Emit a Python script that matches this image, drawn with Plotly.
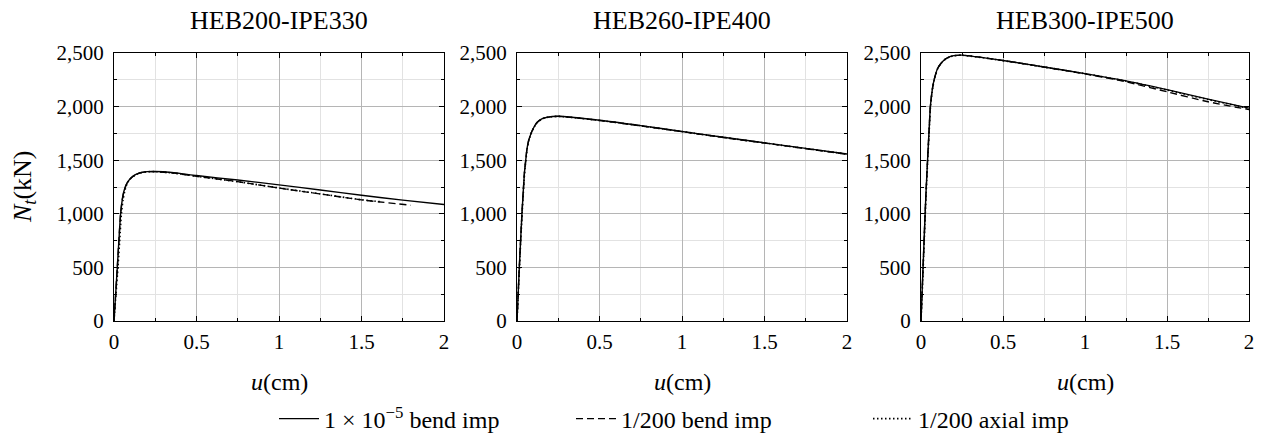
import plotly.graph_objects as go

# ---------------- data ----------------
titles = ["HEB200-IPE330", "HEB260-IPE400", "HEB300-IPE500"]
series_names = ["1 × 10<sup>−5</sup> bend imp", "1/200 bend imp", "1/200 axial imp"]

# Panel 1: HEB200-IPE330
p1_u_solid = [0, 0.01, 0.02, 0.03, 0.04, 0.05, 0.06, 0.08, 0.10, 0.13, 0.16, 0.20, 0.25, 0.35, 0.5, 0.75, 1.0, 1.25, 1.5, 1.75, 2.0]
p1_n_solid = [0, 250, 500, 760, 1000, 1130, 1210, 1290, 1330, 1365, 1383, 1393, 1394, 1385, 1357, 1315, 1270, 1222, 1173, 1128, 1087]
p1_u_dash = [0, 0.01, 0.02, 0.03, 0.04, 0.05, 0.06, 0.08, 0.10, 0.13, 0.16, 0.20, 0.25, 0.35, 0.5, 0.75, 1.0, 1.25, 1.5, 1.8]
p1_n_dash = [0, 250, 500, 760, 1000, 1130, 1210, 1290, 1330, 1365, 1383, 1393, 1393, 1382, 1350, 1300, 1240, 1185, 1130, 1080]
p1_u_dot = [0, 0.012, 0.024, 0.035, 0.045, 0.055, 0.065, 0.08, 0.10, 0.13, 0.16, 0.20, 0.25, 0.35, 0.5, 0.75, 1.0, 1.25, 1.5, 1.62]
p1_n_dot = [0, 250, 500, 760, 1000, 1130, 1210, 1285, 1328, 1363, 1382, 1392, 1393, 1382, 1350, 1299, 1241, 1186, 1131, 1112]

# Panel 2: HEB260-IPE400
p2_u_solid = [0, 0.014, 0.03, 0.045, 0.053, 0.06, 0.07, 0.085, 0.10, 0.12, 0.15, 0.18, 0.25, 0.5, 0.75, 1.0, 1.25, 1.5, 1.75, 2.0]
p2_n_solid = [0, 500, 1000, 1380, 1500, 1600, 1680, 1750, 1800, 1850, 1885, 1900, 1910, 1872, 1822, 1768, 1714, 1662, 1610, 1558]
p2_u_dash = [0, 0.014, 0.03, 0.045, 0.053, 0.06, 0.07, 0.085, 0.10, 0.12, 0.15, 0.18, 0.25, 0.5, 0.75, 1.0, 1.25, 1.5, 1.75, 2.0]
p2_n_dash = [0, 500, 1000, 1380, 1500, 1600, 1680, 1750, 1800, 1850, 1885, 1900, 1909, 1871, 1820, 1766, 1712, 1660, 1607, 1555]
p2_u_dot = [0, 0.015, 0.031, 0.046, 0.054, 0.061, 0.071, 0.086, 0.10, 0.12, 0.15, 0.18, 0.25, 0.5, 0.75, 1.0, 1.25, 1.5, 1.75, 2.0]
p2_n_dot = [0, 500, 1000, 1380, 1500, 1600, 1680, 1750, 1798, 1848, 1884, 1899, 1909, 1871, 1821, 1767, 1713, 1661, 1609, 1557]

# Panel 3: HEB300-IPE500
p3_u_solid = [0, 0.01, 0.02, 0.03, 0.04, 0.05, 0.057, 0.07, 0.08, 0.10, 0.12, 0.15, 0.17, 0.20, 0.25, 0.5, 0.75, 1.0, 1.25, 1.5, 1.75, 2.0]
p3_n_solid = [0, 400, 800, 1180, 1500, 1800, 2000, 2170, 2250, 2350, 2400, 2445, 2462, 2475, 2480, 2430, 2370, 2308, 2240, 2158, 2070, 1986]
p3_u_dash = [0, 0.01, 0.02, 0.03, 0.04, 0.05, 0.057, 0.07, 0.08, 0.10, 0.12, 0.15, 0.17, 0.20, 0.25, 0.5, 0.75, 1.0, 1.25, 1.5, 1.75, 2.0]
p3_n_dash = [0, 400, 800, 1180, 1500, 1800, 2000, 2170, 2250, 2350, 2400, 2445, 2462, 2475, 2480, 2430, 2369, 2305, 2232, 2138, 2045, 1972]
p3_u_dot = [0, 0.011, 0.021, 0.031, 0.041, 0.051, 0.058, 0.071, 0.081, 0.10, 0.12, 0.15, 0.17, 0.20, 0.25, 0.5, 0.75, 1.0, 1.25, 1.5, 1.75, 2.0]
p3_n_dot = [0, 400, 800, 1180, 1500, 1800, 2000, 2170, 2250, 2348, 2399, 2444, 2461, 2474, 2479, 2429, 2369, 2307, 2238, 2155, 2066, 1983]

x_ticks = [0, 0.5, 1, 1.5, 2]
y_ticks = [0, 500, 1000, 1500, 2000, 2500]

panels = [
    [(p1_u_solid, p1_n_solid), (p1_u_dash, p1_n_dash), (p1_u_dot, p1_n_dot)],
    [(p2_u_solid, p2_n_solid), (p2_u_dash, p2_n_dash), (p2_u_dot, p2_n_dot)],
    [(p3_u_solid, p3_n_solid), (p3_u_dash, p3_n_dash), (p3_u_dot, p3_n_dot)],
]

# ---------------- styling ----------------
W, H = 1268, 439
FONT = "Liberation Serif"
dashes = ["solid", "7px,4px", "1.5px,2.5px"]
widths = [1.4, 1.4, 1.6]

x_dom = [(114 / W, 444 / W), (517 / W, 847 / W), (921 / W, 1249 / W)]
y_dom = ((H - 321) / H, (H - 53) / H)

fig = go.Figure()

for i, panel in enumerate(panels):
    xa = "x" if i == 0 else f"x{i+1}"
    ya = "y" if i == 0 else f"y{i+1}"
    for j, (u, n) in enumerate(panel):
        fig.add_trace(go.Scatter(
            x=u, y=n, mode="lines", xaxis=xa, yaxis=ya,
            line=dict(color="black", width=widths[j], dash=dashes[j], shape="spline", smoothing=0.6),
            name=series_names[j], legendgroup=f"s{j}", showlegend=(i == 0),
        ))

axis_common = dict(
    showline=True, linecolor="black", linewidth=1.2, mirror="allticks",
    ticks="inside", ticklen=5, tickcolor="black", tickwidth=1,
    showgrid=True, gridcolor="#b5b5b5", gridwidth=1,
    zeroline=False, automargin=False,
    tickfont=dict(family=FONT, size=21, color="black"),
)

layout = dict(
    template="none",
    width=W, height=H,
    margin=dict(l=0, r=0, t=0, b=0, autoexpand=False),
    paper_bgcolor="white", plot_bgcolor="white",
    font=dict(family=FONT, color="black"),
    showlegend=True,
    legend=dict(
        orientation="h", x=274 / W, xanchor="left", y=(H - 419) / H, yanchor="middle",
        font=dict(family=FONT, size=24, color="black"),
        bgcolor="rgba(0,0,0,0)", itemwidth=40, tracegroupgap=0,
        entrywidth=242, entrywidthmode="pixels",
    ),
)

for i in range(3):
    xk = "xaxis" if i == 0 else f"xaxis{i+1}"
    yk = "yaxis" if i == 0 else f"yaxis{i+1}"
    ya = "y" if i == 0 else f"y{i+1}"
    xa = "x" if i == 0 else f"x{i+1}"
    layout[xk] = dict(
        axis_common, domain=list(x_dom[i]), anchor=ya, range=[0, 2],
        tickvals=x_ticks, ticktext=[f"{v:g}" for v in x_ticks], ticklabelstandoff=2,
        minor=dict(dtick=0.25, tick0=0, ticks="inside", ticklen=3, tickcolor="black",
                   showgrid=True, gridcolor="#e2e2e2", gridwidth=1),
    )
    layout[yk] = dict(
        axis_common, domain=list(y_dom), anchor=xa, range=[0, 2500],
        tickvals=y_ticks, ticktext=[f"{v:,}" for v in y_ticks], ticklabelstandoff=5,
        minor=dict(dtick=250, tick0=0, ticks="inside", ticklen=3, tickcolor="black",
                   showgrid=True, gridcolor="#e2e2e2", gridwidth=1),
    )

fig.update_layout(**layout)

annotations = []
for i in range(3):
    cx = (x_dom[i][0] + x_dom[i][1]) / 2
    annotations.append(dict(text=titles[i], x=cx, y=(H - 21) / H, xref="paper", yref="paper",
                            xanchor="center", yanchor="middle", showarrow=False,
                            font=dict(family=FONT, size=26, color="black")))
    annotations.append(dict(text="<i>u</i>(cm)", x=cx, y=(H - 382) / H, xref="paper", yref="paper",
                            xanchor="center", yanchor="middle", showarrow=False,
                            font=dict(family=FONT, size=24, color="black")))
annotations.append(dict(text="<i>N<sub>t</sub></i>(kN)", x=24 / W, y=(H - 187) / H, xref="paper", yref="paper",
                        xanchor="center", yanchor="middle", showarrow=False, textangle=-90,
                        font=dict(family=FONT, size=26, color="black")))
fig.update_layout(annotations=annotations)

fig.write_html("out.html", config={"displayModeBar": False},
               post_script="document.body.style.margin='0px';")
